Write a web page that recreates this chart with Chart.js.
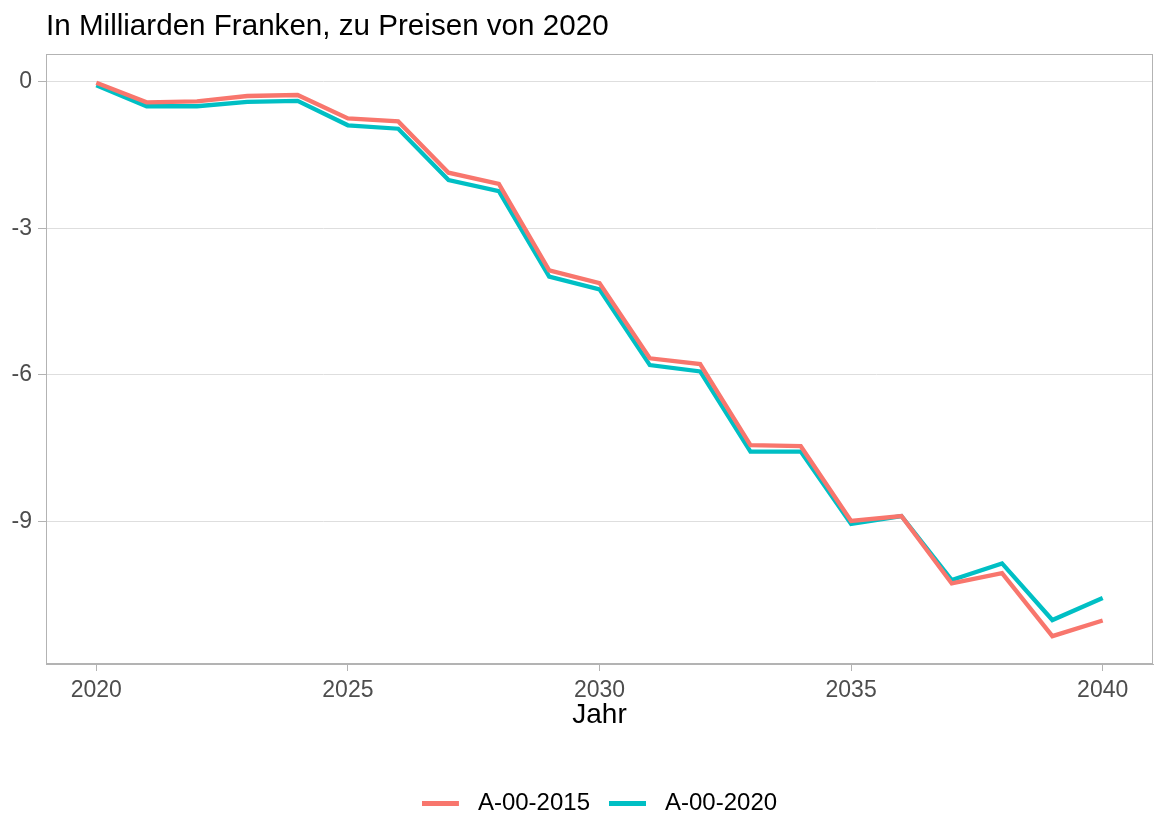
<!DOCTYPE html>
<html>
<head>
<meta charset="utf-8">
<script src="https://cdn.jsdelivr.net/npm/chart.js@4"></script>
<style>
  html, body { margin: 0; padding: 0; background: #fff; }
  #wrap { width: 1155px; height: 818px; }
</style>
</head>
<body>
<div id="wrap"><canvas id="chart" width="1155" height="818"></canvas></div>
<script>
// values
const years = [2020, 2021, 2022, 2023, 2024, 2025, 2026, 2027, 2028, 2029, 2030,
               2031, 2032, 2033, 2034, 2035, 2036, 2037, 2038, 2039, 2040];
const a2015 = [-0.02, -0.42, -0.40, -0.29, -0.27, -0.75, -0.81, -1.86, -2.09, -3.86, -4.12,
               -5.66, -5.78, -7.44, -7.46, -8.99, -8.89, -10.27, -10.06, -11.35, -11.03];
const a2020 = [-0.07, -0.50, -0.50, -0.41, -0.39, -0.89, -0.96, -2.01, -2.24, -3.99, -4.25,
               -5.80, -5.93, -7.57, -7.57, -9.05, -8.89, -10.20, -9.86, -11.02, -10.57];
const seriesNames = ['A-00-2015', 'A-00-2020'];
const seriesColors = ['#F8766D', '#00BFC4'];
const xTicks = [2020, 2025, 2030, 2035, 2040];
const yTicks = [0, -3, -6, -9];
const titleText = 'In Milliarden Franken, zu Preisen von 2020';

const FONT = "'Liberation Sans', Arial, sans-serif";
const toPoints = vals => years.map((yr, i) => ({ x: yr, y: vals[i] }));

// legend key: a short thick bar, with a little empty room on its right
function legendKey(color) {
    const c = document.createElement('canvas');
    c.width = 44;
    c.height = 5;
    const g = c.getContext('2d');
    g.fillStyle = color;
    g.fillRect(0, 0, 37, 5);
    return c;
}

// panel border + title
const panelPlugin = {
    id: 'panel',
    afterDraw(chart) {
        const { ctx, chartArea: a } = chart;
        ctx.save();
        ctx.strokeStyle = '#b3b3b3';
        ctx.lineWidth = 1;
        ctx.strokeRect(a.left + 0.5, a.top + 0.5, a.right - a.left - 1, a.bottom - a.top - 1);
        ctx.fillStyle = '#000';
        ctx.font = '29.6px ' + FONT;
        ctx.textBaseline = 'alphabetic';
        ctx.fillText(titleText, a.left, 35);
        ctx.restore();
    }
};

new Chart(document.getElementById('chart'), {
    type: 'line',
    data: {
        datasets: [a2015, a2020].map((vals, i) => ({
            label: seriesNames[i],
            data: toPoints(vals),
            borderColor: seriesColors[i],
            backgroundColor: seriesColors[i],
            borderWidth: 4.3,
            pointRadius: 0,
            pointStyle: legendKey(seriesColors[i]),
            tension: 0
        }))
    },
    options: {
        responsive: false,
        animation: false,
        layout: { padding: { top: 54, right: 2, left: 0, bottom: -7 } },
        scales: {
            x: {
                type: 'linear',
                min: 2019,
                max: 2041,
                afterBuildTicks: axis => { axis.ticks = xTicks.map(v => ({ value: v })); },
                afterFit: axis => { axis.height = 108; },
                grid: { drawOnChartArea: false, drawTicks: true, tickLength: 7, color: '#b3b3b3' },
                border: { color: '#b3b3b3' },
                ticks: {
                    color: '#4d4d4d',
                    font: { family: FONT, size: 23 },
                    padding: 6,
                    maxRotation: 0,
                    callback: v => String(v)
                },
                title: {
                    display: true,
                    text: 'Jahr',
                    color: '#000',
                    font: { family: FONT, size: 28 },
                    padding: { top: 2, bottom: 40 }
                }
            },
            y: {
                type: 'linear',
                min: -11.92,
                max: 0.57,
                afterBuildTicks: axis => { axis.ticks = yTicks.map(v => ({ value: v })); },
                afterFit: axis => { axis.width = 46; },
                grid: { color: '#dedede', tickLength: 8, tickColor: '#b3b3b3', lineWidth: 1 },
                border: { color: '#b3b3b3' },
                ticks: {
                    color: '#4d4d4d',
                    font: { family: FONT, size: 23 },
                    padding: 6,
                    callback: v => String(v)
                }
            }
        },
        plugins: {
            legend: {
                position: 'bottom',
                fullSize: false,
                labels: {
                    usePointStyle: true,
                    pointStyleWidth: 44,
                    boxHeight: 5,
                    padding: 19,
                    color: '#000',
                    font: { family: FONT, size: 24 }
                }
            },
            tooltip: { enabled: false }
        }
    },
    plugins: [panelPlugin]
});
</script>
</body>
</html>
